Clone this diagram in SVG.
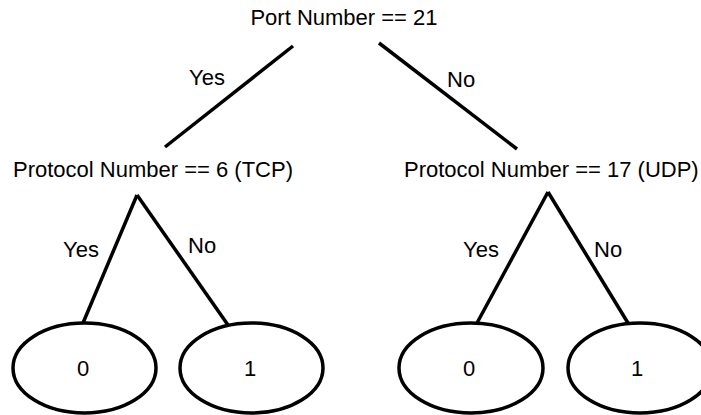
<svg xmlns="http://www.w3.org/2000/svg" width="701" height="415" viewBox="0 0 701 415">
<style>
text{font-family:"Liberation Sans",Arial,sans-serif;font-size:22px;fill:#000}
.c{text-anchor:middle}
.e{fill:#fff;stroke:#000;stroke-width:3.5}
.l{stroke:#000;stroke-width:3.5;fill:none}
</style>
<rect width="701" height="415" fill="#fff"/>
<g id="connectors">
<line class="l" x1="293" y1="46" x2="165" y2="147"/>
<line class="l" x1="379" y1="43" x2="517" y2="149"/>
<line class="l" x1="137" y1="195" x2="83" y2="323"/>
<line class="l" x1="137" y1="195" x2="228" y2="325"/>
<line class="l" x1="548" y1="192" x2="477" y2="323"/>
<line class="l" x1="548" y1="192" x2="628" y2="323"/>
<text x="189" y="85">Yes</text>
<text x="447" y="87">No</text>
<text x="63" y="257">Yes</text>
<text x="188" y="253">No</text>
<text x="463" y="257">Yes</text>
<text x="594" y="257">No</text>
</g>
<g id="root"><text class="c" x="344" y="25">Port Number == 21</text></g>
<g id="tcp"><text x="13" y="177">Protocol Number == 6 (TCP)</text></g>
<g id="udp"><text x="404" y="177">Protocol Number == 17 (UDP)</text></g>
<g id="leaf-tcp-0"><ellipse class="e" cx="84.5" cy="368" rx="71.5" ry="45"/><text class="c" x="83" y="376">0</text></g>
<g id="leaf-tcp-1"><ellipse class="e" cx="251.5" cy="368" rx="71.5" ry="45"/><text class="c" x="250" y="376">1</text></g>
<g id="leaf-udp-0"><ellipse class="e" cx="471" cy="368" rx="72" ry="45"/><text class="c" x="469" y="376">0</text></g>
<g id="leaf-udp-1"><ellipse class="e" cx="640" cy="368" rx="72" ry="45"/><text class="c" x="637" y="376">1</text></g>
</svg>
